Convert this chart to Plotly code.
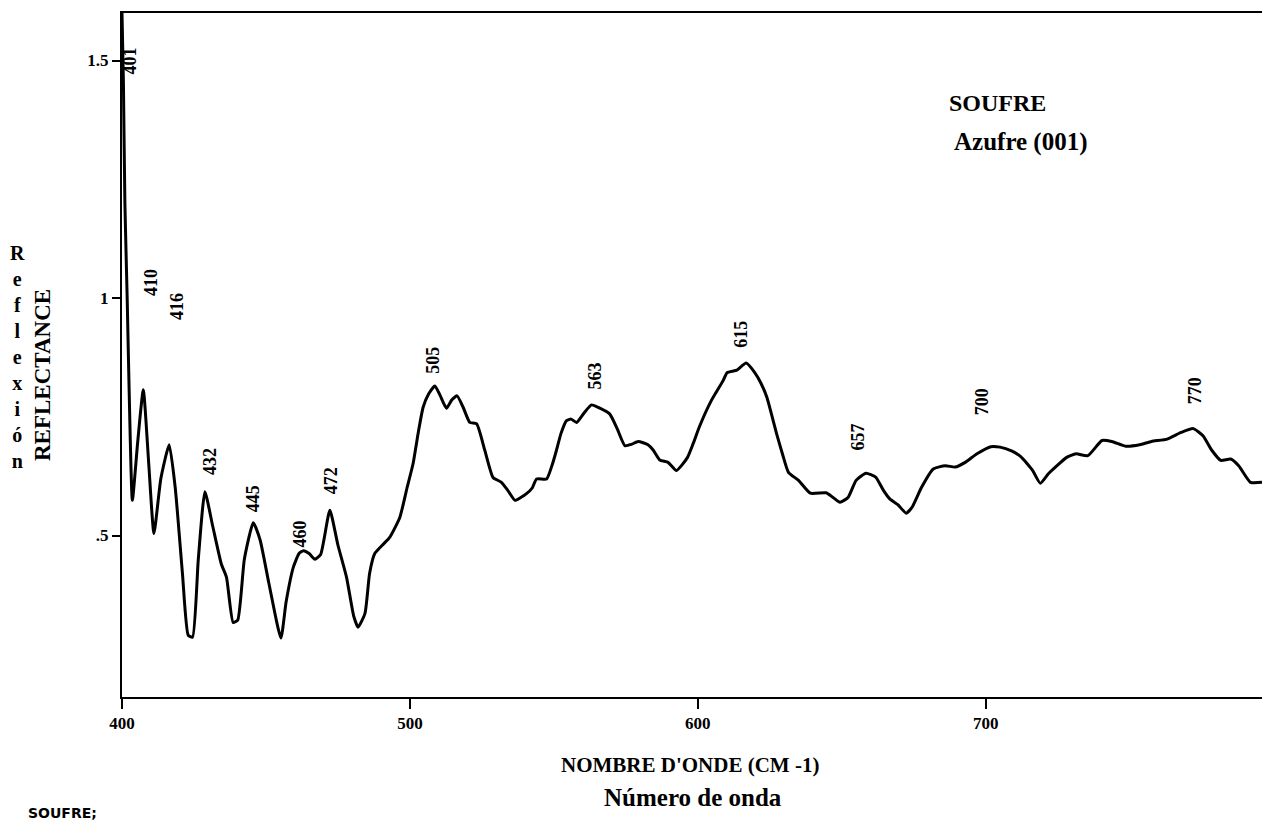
import plotly.graph_objects as go

wavenumber = [400.0, 400.5, 401.0, 401.8, 402.5, 403.6, 405.5, 407.4, 409.3, 411.1, 413.5, 416.4,
              418.5, 421.0, 423.0, 424.5, 426.5, 428.8, 431.5, 434.5, 436.3, 438.6, 440.2, 442.5,
              445.6, 448.0, 451.0, 455.2, 457.0, 459.5, 461.5, 463.0, 465.0, 467.0, 469.0, 472.2,
              475.0, 478.0, 480.5, 482.0, 484.4, 486.0, 487.8, 490.5, 493.0, 496.5, 499.0, 501.1,
              503.0, 504.6, 506.5, 508.7, 510.5, 512.7, 514.5, 516.4, 518.5, 520.8, 523.2, 526.0,
              528.9, 531.8, 534.0, 536.5, 538.5, 540.5, 542.5, 544.0, 547.5, 549.5, 550.9, 552.5,
              554.4, 556.0, 557.9, 560.5, 563.1, 566.0, 569.4, 572.0, 574.7, 577.0, 579.3, 582.7,
              584.5, 586.8, 589.7, 592.6, 596.4, 598.5, 600.5, 604.7, 608.8, 610.2, 613.6, 616.8,
              619.8, 622.0, 624.0, 627.4, 629.5, 631.5, 635.0, 639.1, 644.6, 647.0, 649.4, 652.2,
              655.0, 658.4, 661.8, 664.5, 666.7, 669.5, 672.4, 674.5, 677.7, 681.8, 686.0, 689.4,
              692.9, 697.0, 701.8, 705.0, 709.0, 712.2, 716.3, 719.0, 721.8, 725.0, 728.0, 731.4,
              735.5, 740.4, 743.8, 748.6, 753.5, 757.6, 763.1, 767.9, 772.1, 775.5, 778.5, 781.7,
              785.1, 787.9, 792.0, 796.0]
reflectance = [1.60, 1.45, 1.20, 1.00, 0.80, 0.574, 0.70, 0.807, 0.65, 0.504, 0.62, 0.691,
               0.60, 0.42, 0.29, 0.286, 0.45, 0.592, 0.52, 0.44, 0.412, 0.317, 0.322, 0.45,
               0.527, 0.49, 0.40, 0.284, 0.36, 0.433, 0.462, 0.468, 0.462, 0.450, 0.46, 0.553,
               0.48, 0.412, 0.33, 0.307, 0.336, 0.42, 0.462, 0.480, 0.496, 0.538, 0.60, 0.651,
               0.72, 0.770, 0.798, 0.815, 0.795, 0.768, 0.785, 0.794, 0.770, 0.738, 0.735, 0.68,
               0.622, 0.612, 0.595, 0.574, 0.580, 0.588, 0.600, 0.619, 0.619, 0.650, 0.679, 0.715,
               0.742, 0.745, 0.738, 0.758, 0.775, 0.768, 0.756, 0.725, 0.689, 0.692, 0.698, 0.691,
               0.680, 0.659, 0.654, 0.637, 0.664, 0.695, 0.728, 0.784, 0.826, 0.843, 0.848, 0.863,
               0.843, 0.82, 0.791, 0.714, 0.67, 0.633, 0.616, 0.589, 0.590, 0.58, 0.570, 0.580,
               0.616, 0.631, 0.623, 0.595, 0.577, 0.565, 0.547, 0.56, 0.601, 0.640, 0.647, 0.644,
               0.654, 0.672, 0.687, 0.686, 0.678, 0.666, 0.637, 0.610, 0.630, 0.648, 0.664, 0.672,
               0.668, 0.700, 0.698, 0.688, 0.691, 0.698, 0.703, 0.717, 0.725, 0.710, 0.680, 0.658,
               0.661, 0.647, 0.612, 0.612]

peak_labels = ["401", "410", "416", "432", "445", "460", "472", "505", "563", "615", "657", "700", "770"]
peak_label_x = [402.8, 410.1, 419.1, 430.6, 445.8, 461.8, 472.9, 508.0, 564.2, 614.9, 655.6, 698.6, 772.6]
peak_label_y = [1.498, 1.032, 0.983, 0.655, 0.578, 0.504, 0.616, 0.870, 0.836, 0.924, 0.708, 0.782, 0.805]

x_tick_vals = [400, 500, 600, 700]
x_tick_text = ["400", "500", "600", "700"]
y_tick_vals = [0.5, 1.0, 1.5]
y_tick_text = [".5", "1", "1.5"]

serif = "Liberation Serif"

fig = go.Figure()
fig.add_trace(go.Scatter(x=wavenumber, y=reflectance, mode="lines",
                         line=dict(color="black", width=3, shape="spline", smoothing=0.5),
                         hoverinfo="skip", showlegend=False))

for t, lx, ly in zip(peak_labels, peak_label_x, peak_label_y):
    fig.add_annotation(x=lx, y=ly, text="<b>" + t + "</b>", showarrow=False, textangle=-90,
                       font=dict(family=serif, size=18, color="black"))

fig.update_layout(
    width=1262, height=822,
    margin=dict(l=122, r=0, t=13, b=125),
    paper_bgcolor="white", plot_bgcolor="white",
    showlegend=False,
    xaxis=dict(range=[400, 796], showgrid=False, zeroline=False, showline=True, linecolor="black",
               linewidth=2, mirror=True, ticks="outside", ticklen=10, tickwidth=2, tickcolor="black",
               tickvals=x_tick_vals, ticktext=["<b>" + s + "</b>" for s in x_tick_text],
               tickfont=dict(family=serif, size=17, color="black")),
    yaxis=dict(range=[0.16, 1.6], showgrid=False, zeroline=False, showline=True, linecolor="black",
               linewidth=2, ticks="outside", ticklen=8, tickwidth=2, tickcolor="black",
               tickvals=y_tick_vals, ticktext=["<b>" + s + "</b>" for s in y_tick_text],
               tickfont=dict(family=serif, size=17, color="black")),
)

fig.add_annotation(xref="paper", yref="paper", x=(947 - 122) / 1140, y=1 - (103 - 13) / 684,
                   xanchor="left", yanchor="middle", showarrow=False,
                   text="<b>SOUFRE</b>", font=dict(family=serif, size=24, color="black"))
fig.add_annotation(xref="paper", yref="paper", x=(952 - 122) / 1140, y=1 - (142 - 13) / 684,
                   xanchor="left", yanchor="middle", showarrow=False,
                   text="<b>Azufre (001)</b>", font=dict(family=serif, size=25, color="black"))

fig.add_annotation(xref="paper", yref="paper", x=(690 - 122) / 1140, y=-(765 - 697) / 684,
                   xanchor="center", yanchor="middle", showarrow=False,
                   text="<b>NOMBRE D'ONDE (CM -1)</b>", font=dict(family=serif, size=21, color="black"))
fig.add_annotation(xref="paper", yref="paper", x=(693 - 122) / 1140, y=-(797 - 697) / 684,
                   xanchor="center", yanchor="middle", showarrow=False,
                   text="<b>Número de onda</b>", font=dict(family=serif, size=25, color="black"))

fig.add_annotation(xref="paper", yref="paper", x=(42 - 122) / 1140, y=1 - (375 - 13) / 684,
                   xanchor="center", yanchor="middle", showarrow=False, textangle=-90,
                   text="<b>REFLECTANCE</b>", font=dict(family=serif, size=23, color="black"))
fig.add_annotation(xref="paper", yref="paper", x=(17 - 122) / 1140, y=1 - (357 - 13) / 684,
                   xanchor="center", yanchor="middle", showarrow=False,
                   text="<b>R<br>e<br>f<br>l<br>e<br>x<br>i<br>ó<br>n</b>",
                   font=dict(family=serif, size=20, color="black"))

fig.add_annotation(xref="paper", yref="paper", x=(26 - 122) / 1140, y=-(813 - 697) / 684,
                   xanchor="left", yanchor="middle", showarrow=False,
                   text="<b>SOUFRE;</b>", font=dict(family="DejaVu Sans", size=14, color="black"))

fig.write_html("out.html")
